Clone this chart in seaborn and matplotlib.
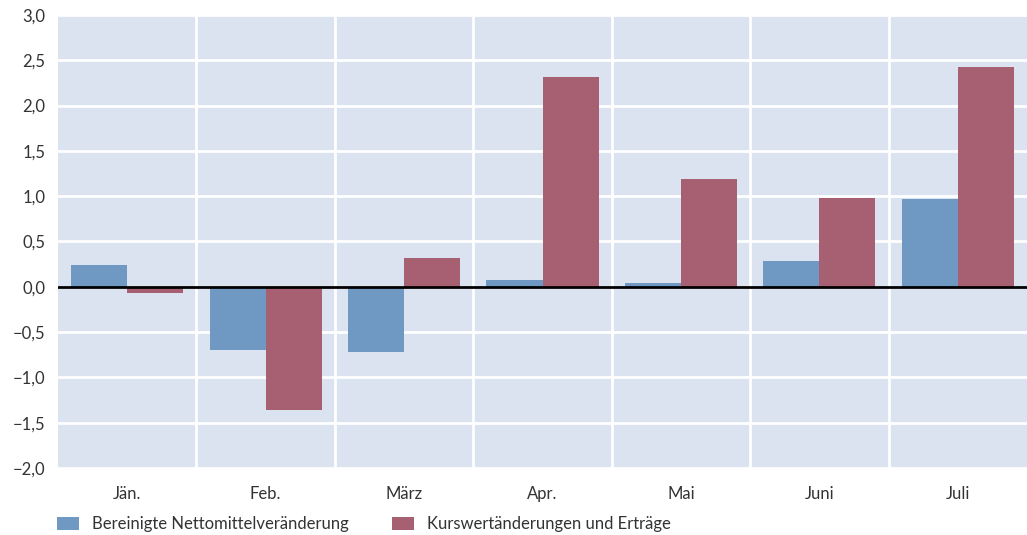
import matplotlib
matplotlib.use("Agg")
import matplotlib.pyplot as plt
import pandas as pd
import numpy as np
import seaborn as sb

# Data
months = ["Jän.", "Feb.", "März", "Apr.", "Mai", "Juni", "Juli"]
netto = [0.24, -0.70, -0.72, 0.08, 0.04, 0.29, 0.97]
kurs = [-0.07, -1.36, 0.32, 2.31, 1.19, 0.98, 2.43]
series = ["Bereinigte Nettomittelveränderung", "Kurswertänderungen und Erträge"]
yticks = [-2.0, -1.5, -1.0, -0.5, 0.0, 0.5, 1.0, 1.5, 2.0, 2.5, 3.0]

df = pd.DataFrame({
    "Monat": months * 2,
    "Wert": netto + kurs,
    "Reihe": [series[0]] * len(months) + [series[1]] * len(months),
})

sb.set_style("white")
plt.rcParams["font.family"] = ["Lato", "DejaVu Sans"]

fig = plt.figure(figsize=(10.27, 5.35), dpi=100)
ax = fig.add_axes([0.0565, 0.1252, 0.9435, 0.8468])
ax.set_facecolor("#dae3ef")

sb.barplot(data=df, x="Monat", y="Wert", hue="Reihe", order=months,
           hue_order=series, palette=["#6f99c3", "#a76072"],
           width=0.81, saturation=1, linewidth=0, ax=ax, legend=True)

ax.set_ylim(-2.0, 3.0)
ax.set_xlim(-0.5, len(months) - 0.5)
ax.set_yticks(yticks)
ax.set_yticklabels([f"{v:.1f}".replace(".", ",").replace("-", "\u2212") for v in yticks])

# gridlines
ax.set_axisbelow(True)
for y in yticks:
    ax.axhline(y, color="white", lw=2, zorder=0.5)
for i in range(len(months) - 1):
    ax.axvline(i + 0.5, color="white", lw=2, zorder=0.5)
ax.axhline(0, color="black", lw=2, zorder=3)

for s in ax.spines.values():
    s.set_visible(False)
ax.tick_params(axis="both", length=0, labelsize=12, labelcolor="#333333")
ax.tick_params(axis="x", pad=13)
ax.tick_params(axis="y", pad=9)
ax.set_xlabel("")
ax.set_ylabel("")

handles, labels = ax.get_legend_handles_labels()
ax.legend(handles, labels, loc="upper left", bbox_to_anchor=(-0.008, -0.092),
          ncol=2, frameon=False, fontsize=12, handlelength=1.3, handleheight=0.75,
          handletextpad=0.8, columnspacing=2.6, labelcolor="#333333", borderaxespad=0)

fig.savefig("out.png", dpi=100)
